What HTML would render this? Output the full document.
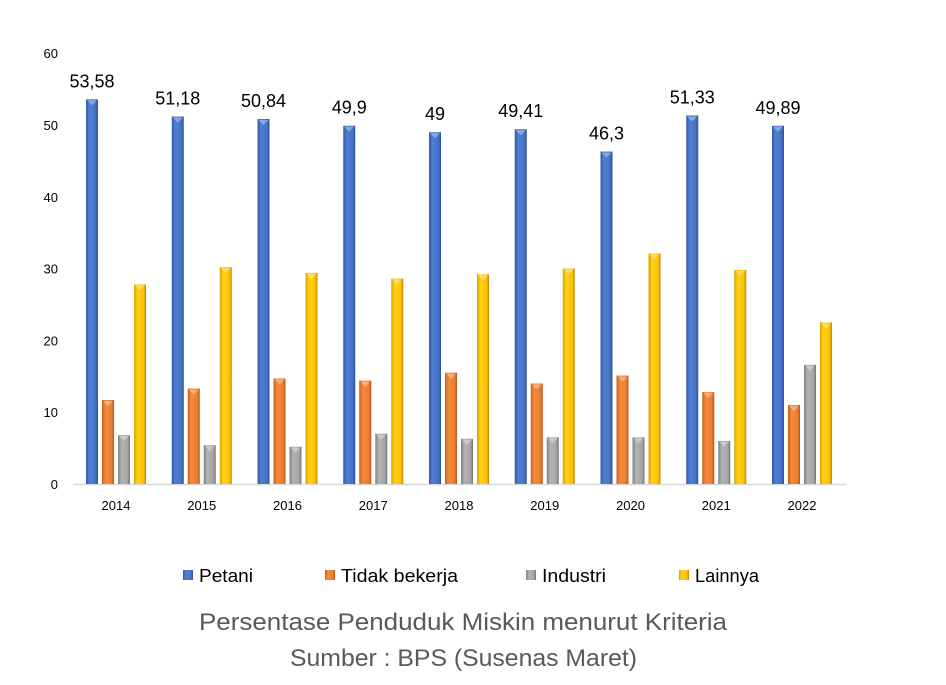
<!DOCTYPE html>
<html><head><meta charset="utf-8"><style>
body{margin:0;background:#fff;}
svg{display:block;font-family:"Liberation Sans",sans-serif;}
</style></head><body>
<svg id="chart" width="946" height="685" viewBox="0 0 946 685">
<defs>
<linearGradient id="g0" x1="0" x2="1"><stop offset="0" stop-color="#2f5aa8"/><stop offset="0.3" stop-color="#4f7fd6"/><stop offset="0.8" stop-color="#4472c4"/><stop offset="1" stop-color="#2c4f90"/></linearGradient>
<linearGradient id="g1" x1="0" x2="1"><stop offset="0" stop-color="#c9611c"/><stop offset="0.3" stop-color="#f58a3e"/><stop offset="0.8" stop-color="#ed7d31"/><stop offset="1" stop-color="#b5561a"/></linearGradient>
<linearGradient id="g2" x1="0" x2="1"><stop offset="0" stop-color="#7f7f7f"/><stop offset="0.3" stop-color="#b3b3b3"/><stop offset="0.8" stop-color="#a5a5a5"/><stop offset="1" stop-color="#737373"/></linearGradient>
<linearGradient id="g3" x1="0" x2="1"><stop offset="0" stop-color="#d9a400"/><stop offset="0.3" stop-color="#ffd21a"/><stop offset="0.8" stop-color="#ffc000"/><stop offset="1" stop-color="#b38a00"/></linearGradient>
</defs>
<g id="axes"></g>
<g id="bars"></g>
<g id="legend"></g>
<text x="199" y="630" textLength="528" lengthAdjust="spacingAndGlyphs" font-size="24" fill="#595959">Persentase Penduduk Miskin menurut Kriteria</text>
<text x="290" y="666" textLength="347" lengthAdjust="spacingAndGlyphs" font-size="24" fill="#595959">Sumber : BPS (Susenas Maret)</text>
</svg>
<script>
const categories=["2014","2015","2016","2017","2018","2019","2020","2021","2022"];
const petani=[53.58,51.18,50.84,49.9,49,49.41,46.3,51.33,49.89];
const petaniLabels=["53,58","51,18","50,84","49,9","49","49,41","46,3","51,33","49,89"];
const tidakBekerja=[11.7,13.3,14.7,14.4,15.5,14.0,15.1,12.8,11.0];
const industri=[6.8,5.4,5.2,7.0,6.3,6.5,6.5,6.0,16.6];
const lainnya=[27.8,30.2,29.4,28.6,29.2,30.0,32.1,29.8,22.5];
const seriesNames=["Petani","Tidak bekerja","Industri","Lainnya"];
const yTicks=[0,10,20,30,40,50,60];
const NS="http://www.w3.org/2000/svg";
const y=v=>484-v*7.18;
const xc=i=>116+i*85.75;
function mk(t,a,p){const e=document.createElementNS(NS,t);for(const k in a)e.setAttribute(k,a[k]);p.appendChild(e);return e;}
const ax=document.getElementById('axes'),bg=document.getElementById('bars'),lg=document.getElementById('legend');
const al=mk('line',{x1:73,x2:846,y1:484.5,y2:484.5,stroke:'#d9d9d9','stroke-width':1.5},ax);


yTicks.forEach(t=>{const e=mk('text',{x:58,y:y(t)+5,'text-anchor':'end','font-size':13,fill:'#000'},ax);e.textContent=t;

});
categories.forEach((c,i)=>{const e=mk('text',{x:xc(i),y:510,'text-anchor':'middle','font-size':13,fill:'#000'},ax);e.textContent=c;

});
const all=[petani,tidakBekerja,industri,lainnya];
const keys=["petani","tidak-bekerja","industri","lainnya"];
all.forEach((s,si)=>{s.forEach((v,i)=>{const x=xc(i)-30+si*16;const top=y(v);
const r=mk('rect',{x:x,y:top,width:12,height:484-top,fill:'url(#g'+si+')'},bg);


mk('polygon',{points:`${x+1},${top+1} ${x+11},${top+1} ${x+6},${top+6}`,fill:'#fff','fill-opacity':0.35},bg);
});});
petani.forEach((v,i)=>{const e=mk('text',{x:xc(i)-24,y:y(v)-12,'text-anchor':'middle','font-size':18,fill:'#000'},bg);e.textContent=petaniLabels[i];

});
const lx=[183,325,526,679];
const lw=[54,117,64,64];
seriesNames.forEach((n,i)=>{const g=mk('g',{},lg);


mk('rect',{x:lx[i],y:570,width:10,height:10,fill:'url(#g'+i+')'},g);
const t=mk('text',{x:lx[i]+16,y:582,'font-size':18,fill:'#000',textLength:lw[i],lengthAdjust:'spacingAndGlyphs'},g);t.textContent=n;});
</script>
</body></html>
